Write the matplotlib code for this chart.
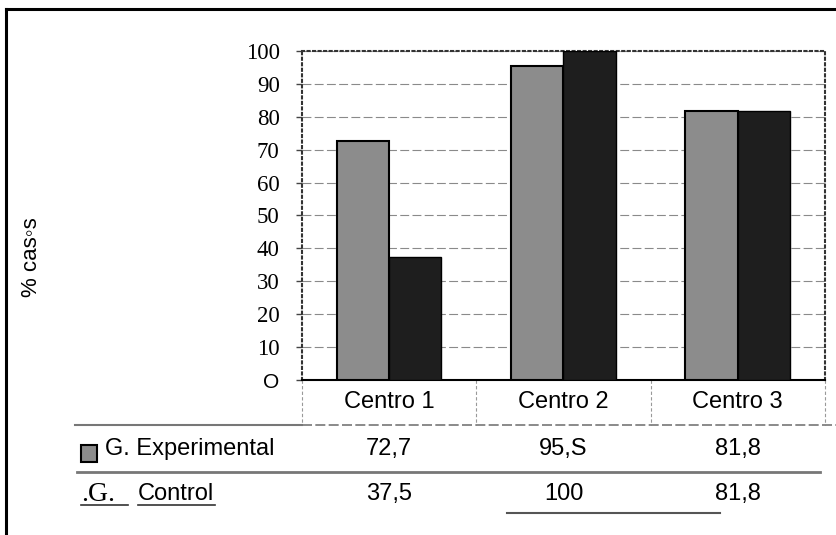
import matplotlib
matplotlib.use('Agg')
import matplotlib.pyplot as plt
from matplotlib.lines import Line2D
from matplotlib.patches import Rectangle
import matplotlib.transforms as mtransforms
import numpy as np

# data
centros = ['Centro 1', 'Centro 2', 'Centro 3']
experimental = [72.7, 95.5, 81.8]
control = [37.5, 100, 81.8]
exp_labels = ['72,7', '95,S', '81,8']
ctrl_labels = ['37,5', '100', '81,8']
yticks = list(range(0, 101, 10))
ytick_labels = ['O'] + [str(v) for v in yticks[1:]]

SANS = 'Liberation Sans'
SERIF = 'Liberation Serif'
EXP_COLOR = '#8c8c8c'
CTRL_COLOR = '#1e1e1e'
TXT = 17

fig = plt.figure(figsize=(8.36, 5.35), dpi=100)
ax = fig.add_axes([0.3612, 0.2897, 0.6256, 0.615])

x = np.arange(len(centros))
w = 0.3
ax.bar(x - w / 2, experimental, w, color=EXP_COLOR, edgecolor='black', linewidth=1.5, zorder=3)
ax.bar(x + w / 2, control, w, color=CTRL_COLOR, edgecolor='black', linewidth=1.0, zorder=3)

ax.set_xlim(-0.5, 2.5)
ax.set_ylim(0, 100)
ax.set_yticks(yticks)
ax.set_yticklabels(ytick_labels, fontfamily=SERIF, fontsize=16.5)
ax.get_yticklabels()[0].set_fontfamily(SANS)
ax.get_yticklabels()[0].set_fontsize(15)
ax.tick_params(axis='y', length=4, width=1, pad=12, color='#444444')
ax.set_xticks([])
ax.yaxis.grid(True, linestyle=(0, (8, 3)), color='#8a8a8a', linewidth=0.8, zorder=0)

for side in ['top', 'left', 'right']:
    ax.spines[side].set_linestyle(':')
    ax.spines[side].set_color('#333333')
    ax.spines[side].set_linewidth(1.5)
ax.spines['bottom'].set_color('black')
ax.spines['bottom'].set_linewidth(1.5)

# y label
fig.text(0.038, 0.52, '% cas\u25e6s', rotation=90, fontfamily=SANS,
         fontsize=16, ha='center', va='center')

# data table below the chart: x in data units, y in figure fraction
trans = mtransforms.blended_transform_factory(ax.transData, fig.transFigure)
for i, name in enumerate(centros):
    ax.text(i, 0.2486, name, transform=trans, ha='center', va='center',
            fontfamily=SANS, fontsize=TXT, clip_on=False)
    ax.text(i, 0.1607, exp_labels[i], transform=trans, ha='center', va='center',
            fontfamily=SANS, fontsize=TXT, clip_on=False)
    ax.text(i, 0.0766, ctrl_labels[i], transform=trans, ha='center', va='center',
            fontfamily=SANS, fontsize=TXT, clip_on=False)

# column separators
for xb in [-0.5, 0.5, 1.5, 2.5]:
    ax.add_line(Line2D([xb, xb], [0.2897, 0.2056], transform=trans,
                       linestyle=(0, (3, 2)), color='#999999', linewidth=0.8, clip_on=False))

# horizontal table rules
fig.add_artist(Line2D([0.0897, 0.3612], [0.2056, 0.2056], color='#777777', linewidth=1.5))
fig.add_artist(Line2D([0.3612, 1.0], [0.2056, 0.2056], color='#777777', linewidth=1.2,
                      linestyle=(0, (6, 2))))
fig.add_artist(Line2D([0.092, 0.981], [0.1178, 0.1178], color='#777777', linewidth=2))
fig.add_artist(Line2D([0.6065, 0.8612], [0.0411, 0.0411], color='#555555', linewidth=1.5))

# row headers
fig.add_artist(Rectangle((0.0969, 0.1364), 0.0191, 0.0318, facecolor=EXP_COLOR,
                         edgecolor='black', linewidth=1.5))
fig.text(0.1256, 0.1607, 'G. Experimental', fontfamily=SANS, fontsize=TXT,
         ha='left', va='center')
fig.text(0.0969, 0.0766, '.G.', fontfamily=SERIF, fontsize=20, ha='left', va='center')
fig.text(0.165, 0.0766, 'Control', fontfamily=SANS, fontsize=TXT, ha='left', va='center')
fig.add_artist(Line2D([0.0969, 0.153], [0.0561, 0.0561], color='#333333', linewidth=1.2))
fig.add_artist(Line2D([0.165, 0.257], [0.0561, 0.0561], color='#333333', linewidth=1.2))

# outer frame (left and top)
fig.add_artist(Line2D([0.0072, 0.0072], [0.0, 0.983], color='black', linewidth=2.2))
fig.add_artist(Line2D([0.0072, 1.0], [0.983, 0.983], color='black', linewidth=2.2))

fig.savefig('out.png', dpi=100)
